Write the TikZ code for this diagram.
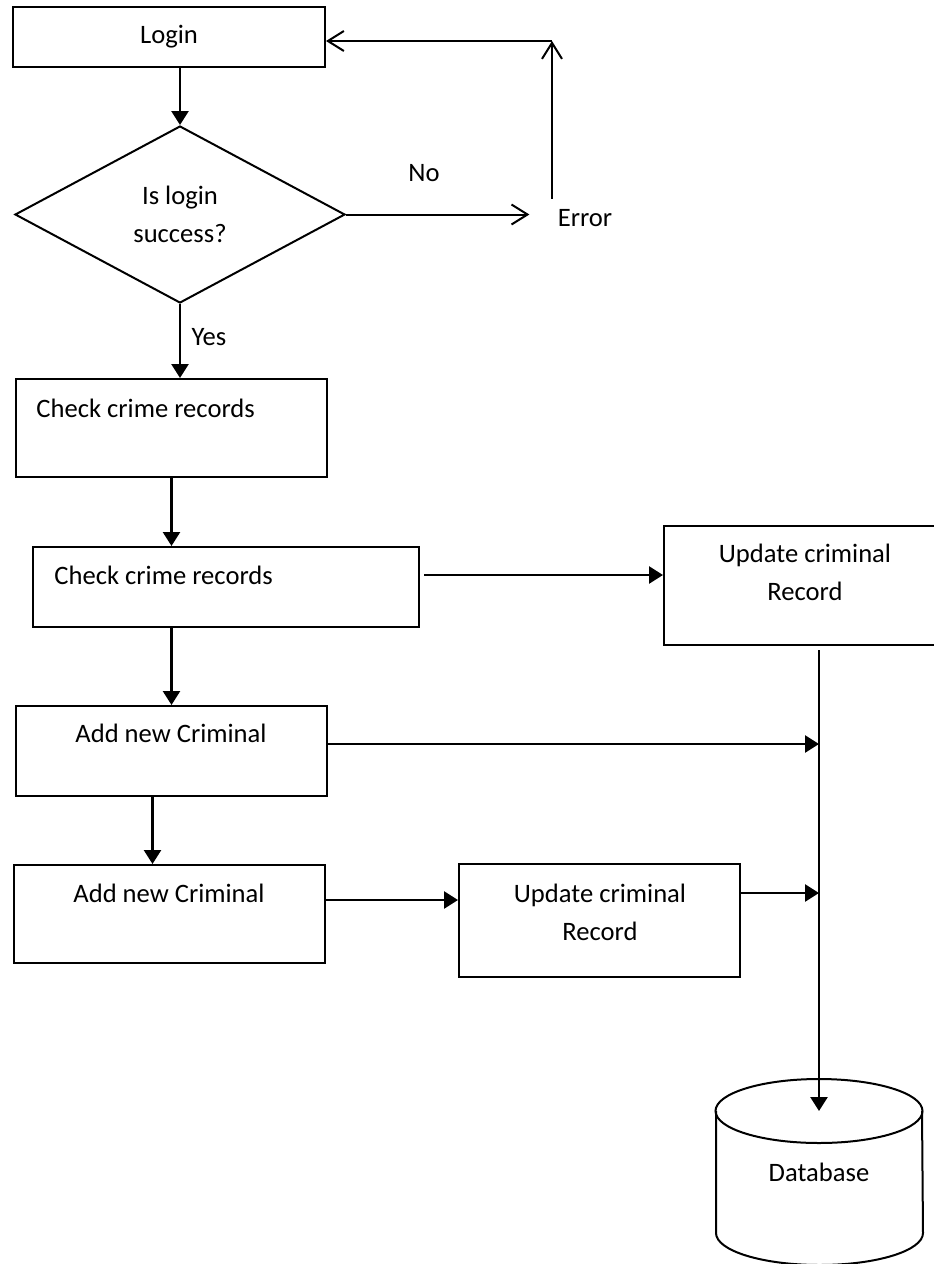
\documentclass[tikz,border=0pt]{standalone}
\usepackage{fontspec}
\setmainfont{Carlito}
\usetikzlibrary{arrows.meta}
\usetikzlibrary{shapes.geometric}

\tikzset{
  box/.style={draw, line width=1pt, inner sep=0pt},
  txt/.style={inner sep=0pt, font=\fontsize{13.3}{19}\selectfont, align=center},
  flow/.style={line width=1.3pt, -{Triangle[length=7pt,width=8.5pt]}},
  back/.style={line width=1pt, -{Straight Barb[length=8pt,width=10pt]}}
}

\begin{document}
\begin{tikzpicture}[x=0.5pt, y=-0.5pt]
        \useasboundingbox (0,0) rectangle (933,1264);

        \node[box, txt, minimum width=156pt, minimum height=30pt] (login) at (169,37) {Login};
        \node[box, txt, diamond, minimum width=165pt, minimum height=88.5pt] (dec) at (180,214.5) {Is login\\success?};
        \node[txt] (no) at (424,173) {No};
        \node[txt] (err) at (585,218) {Error};
        \node[txt] (yes) at (209,337) {Yes};
        \coordinate (corner) at (552,41);

        \node[box, minimum width=155.5pt, minimum height=49pt] (chk1) at (171.5,428) {};
        \node[txt, anchor=west] (chk1t) at (36,408) {Check crime records};
        \node[box, minimum width=193pt, minimum height=40pt] (chk2) at (226,587) {};
        \node[txt, anchor=west] (chk2t) at (54,575) {Check crime records};
        \node[box, minimum width=150pt, minimum height=59.5pt] (upd1) at (814,585.5) {};
        \node[txt] (upd1t) at (805,572) {Update criminal\\Record};
        \node[box, minimum width=155.5pt, minimum height=45pt] (add1) at (171.5,751) {};
        \node[txt] (add1t) at (171,733) {Add new Criminal};
        \node[box, minimum width=155.5pt, minimum height=49pt] (add2) at (169.5,914) {};
        \node[txt] (add2t) at (169,893) {Add new Criminal};
        \node[box, minimum width=140.5pt, minimum height=56.5pt] (upd2) at (599.5,920.5) {};
        \node[txt] (upd2t) at (600,912) {Update criminal\\Record};

        % database
        \coordinate (dbtop) at (819,1111);
        \draw[line width=1pt] (dbtop) ellipse[x radius=51.75pt, y radius=16pt];
        \draw[line width=1pt] (716,1111) -- (716,1233)
          arc[start angle=180, end angle=360, x radius=51.75pt, y radius=16pt] -- (922,1111);
        \node[txt] (db) at (819,1172) {Database};

        \draw[flow] (dec.north |- login.south) -- (dec.north);
        \draw[back, shorten >=14pt] (dec.east) -- (dec.east -| err.west);
        \draw[back, shorten <=5pt] (err.north -| corner) -- (corner);
        \draw[back] (corner) -- (corner -| login.east);
        \draw[flow] (dec.south) -- (dec.south |- chk1.north);
        \draw[flow] (chk1.south) -- (chk1.south |- chk2.north);
        \draw[flow, shorten <=2pt] (chk2.east |- chk2t) -- (upd1.west |- chk2t);
        \draw[flow] (add1.north |- chk2.south) -- (add1.north);
        \draw[flow, shorten <=2pt] (upd1.south -| dbtop) -- (dbtop);
        \draw[flow] ([yshift=3.5pt]add1.east) -- ([yshift=3.5pt]add1.east -| dbtop);
        \draw[flow] ([xshift=-9.5pt]add1.south) -- ([xshift=-9.5pt]add1.south |- add2.north);
        \draw[flow] ([yshift=7pt]add2.east) -- ([yshift=7pt]add2.east -| upd2.west);
        \draw[flow] ([yshift=13.75pt]upd2.east) -- ([yshift=13.75pt]upd2.east -| dbtop);
\end{tikzpicture}
\end{document}
